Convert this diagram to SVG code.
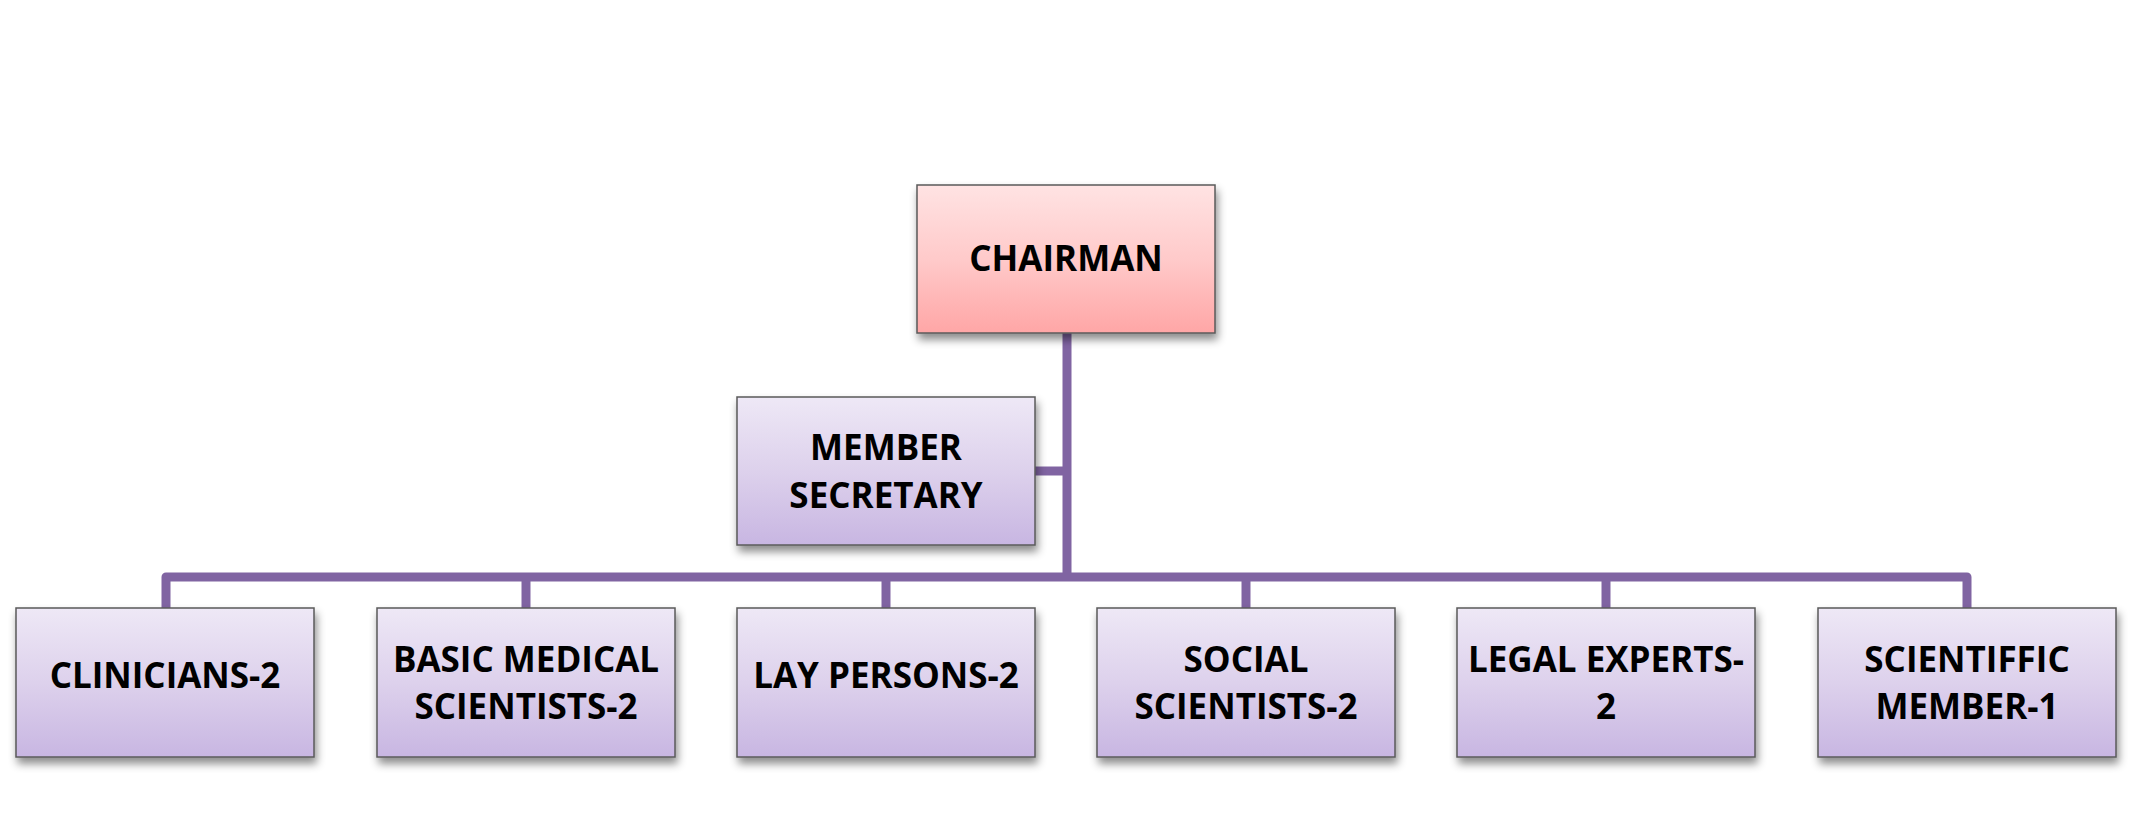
<svg xmlns="http://www.w3.org/2000/svg" width="2133" height="834" viewBox="0 0 2133 834">
<defs>
<linearGradient id="gPink" x1="0" y1="0" x2="0" y2="1">
<stop offset="0" stop-color="#FFE3E3"/>
<stop offset="0.5" stop-color="#FFCACA"/>
<stop offset="1" stop-color="#FFA6A6"/>
</linearGradient>
<linearGradient id="gPurple" x1="0" y1="0" x2="0" y2="1">
<stop offset="0" stop-color="#EEE8F6"/>
<stop offset="0.5" stop-color="#DDD1EC"/>
<stop offset="1" stop-color="#C8B6E2"/>
</linearGradient>
<filter id="sh" x="-10%" y="-10%" width="125%" height="135%">
<feDropShadow dx="2" dy="6" stdDeviation="4" flood-color="#000" flood-opacity="0.45"/>
</filter>
</defs>
<style>
.box{stroke:#5a5a5a;stroke-width:1.5;filter:url(#sh)}
.pink{fill:url(#gPink)}
.purple{fill:url(#gPurple)}
.t{font-family:"Open Sans","Liberation Sans",sans-serif;font-weight:bold;font-size:35px;fill:#000;text-anchor:middle}
.conn{fill:none;stroke:#8064A2;stroke-width:9;stroke-linejoin:round}
</style>
<rect width="2133" height="834" fill="#fff"/>
<g id="connectors">
<path class="conn" d="M1067,333 V577"/>
<path class="conn" d="M1035,471 H1067"/>
<path class="conn" d="M166,608 V577 H1967 V608"/>
<path class="conn" d="M526,577 V608"/>
<path class="conn" d="M886,577 V608"/>
<path class="conn" d="M1246,577 V608"/>
<path class="conn" d="M1606,577 V608"/>
</g>
<g id="chairman">
<rect class="box pink" x="917" y="185" width="298" height="148"/>
<text class="t" x="1066" y="271" font-size="32">CHAIRMAN</text>
</g>
<g id="member-secretary">
<rect class="box purple" x="737" y="397" width="298" height="148"/>
<text class="t" x="886" y="460">MEMBER</text>
<text class="t" x="886" y="508">SECRETARY</text>
</g>
<g id="clinicians">
<rect class="box purple" x="16" y="608" width="298" height="149"/>
<text class="t" x="165" y="688">CLINICIANS-2</text>
</g>
<g id="basic-medical">
<rect class="box purple" x="377" y="608" width="298" height="149"/>
<text class="t" x="526" y="672">BASIC MEDICAL</text>
<text class="t" x="526" y="719">SCIENTISTS-2</text>
</g>
<g id="lay-persons">
<rect class="box purple" x="737" y="608" width="298" height="149"/>
<text class="t" x="886" y="688">LAY PERSONS-2</text>
</g>
<g id="social-scientists">
<rect class="box purple" x="1097" y="608" width="298" height="149"/>
<text class="t" x="1246" y="672">SOCIAL</text>
<text class="t" x="1246" y="719">SCIENTISTS-2</text>
</g>
<g id="legal-experts">
<rect class="box purple" x="1457" y="608" width="298" height="149"/>
<text class="t" x="1606" y="672">LEGAL EXPERTS-</text>
<text class="t" x="1606" y="719">2</text>
</g>
<g id="scientific-member">
<rect class="box purple" x="1818" y="608" width="298" height="149"/>
<text class="t" x="1967" y="672">SCIENTIFFIC</text>
<text class="t" x="1967" y="719">MEMBER-1</text>
</g>
</svg>
